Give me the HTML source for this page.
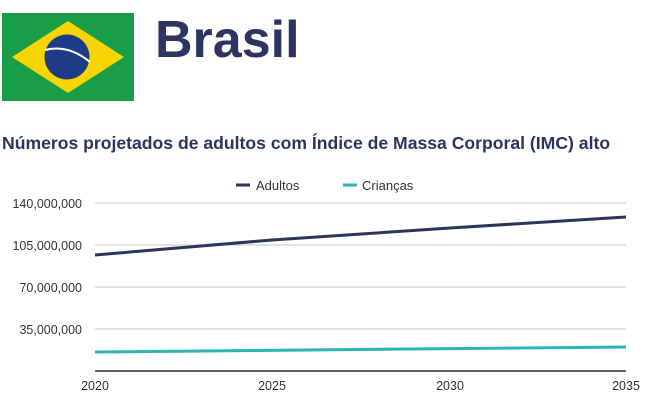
<!DOCTYPE html>
<html><head><meta charset="utf-8"><style>
body{margin:0;width:648px;height:401px;background:#fff;overflow:hidden;font-family:"Liberation Sans",sans-serif}
</style></head><body>
<svg width="648" height="401" xmlns="http://www.w3.org/2000/svg">
<rect x="2" y="13" width="132" height="88" fill="#1a9d49"/>
<polygon points="12,57 68,21 124,57 68,93" fill="#f6d500"/>
<circle cx="67" cy="57" r="22.5" fill="#1d3b87"/>
<path d="M45,50 Q68,44 90,62" stroke="#fff" stroke-width="2" fill="none"/>
<text x="155" y="57" font-size="52" font-weight="bold" fill="#2b3560">Brasil</text>
<text x="2" y="149" font-size="17.6" font-weight="bold" fill="#2b3560">Números projetados de adultos com Índice de Massa Corporal (IMC) alto</text>
<line x1="236" y1="185" x2="250" y2="185" stroke="#2b3560" stroke-width="3"/>
<text x="256" y="190" font-size="13" fill="#333">Adultos</text>
<line x1="343" y1="185" x2="357" y2="185" stroke="#2bb5b5" stroke-width="3"/>
<text x="362" y="190" font-size="13" fill="#333">Crianças</text>
<g stroke="#d9d9d9" stroke-width="1.5">
<line x1="95" y1="203" x2="626" y2="203"/><line x1="95" y1="245" x2="626" y2="245"/>
<line x1="95" y1="287" x2="626" y2="287"/><line x1="95" y1="329" x2="626" y2="329"/>
</g>
<line x1="95" y1="371" x2="626" y2="371" stroke="#333" stroke-width="1.5"/>
<g font-size="12.5" fill="#333" text-anchor="end">
<text x="82" y="208">140,000,000</text><text x="82" y="250">105,000,000</text>
<text x="82" y="292">70,000,000</text><text x="82" y="334">35,000,000</text>
</g>
<g font-size="12.5" fill="#333" text-anchor="middle">
<text x="95" y="390">2020</text><text x="272" y="390">2025</text>
<text x="450" y="390">2030</text><text x="626" y="390">2035</text>
</g>
<polyline points="95,255 272,240 450,228 626,217" stroke="#2b3560" stroke-width="3" fill="none"/>
<polyline points="95,352 626,347" stroke="#2bb5b5" stroke-width="3" fill="none"/>
</svg>
</body></html>
